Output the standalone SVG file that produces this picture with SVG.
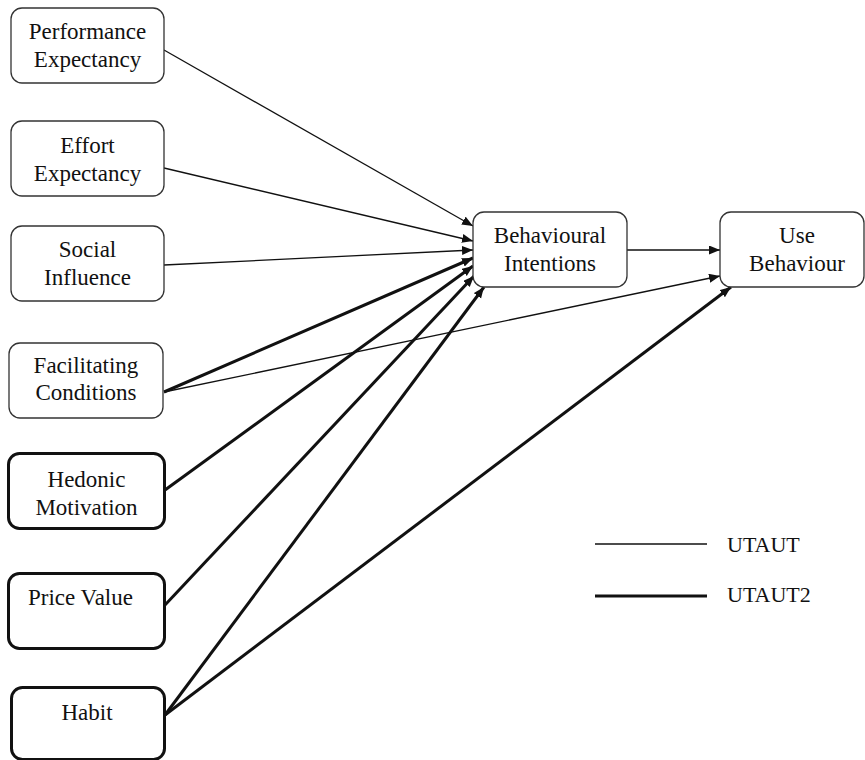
<svg xmlns="http://www.w3.org/2000/svg" width="865" height="760" viewBox="0 0 865 760">
<style>
.box{fill:#fff;stroke:#333;stroke-width:1.3}
.bold{fill:#fff;stroke:#111;stroke-width:3}
.t{font-family:"Liberation Serif","Times New Roman",serif;font-size:23px;fill:#111;text-anchor:middle}
.l{font-family:"Liberation Serif","Times New Roman",serif;font-size:22px;fill:#111}
.thin{stroke:#111;stroke-width:1.3;fill:none}
.thick{stroke:#111;stroke-width:3;fill:none}
</style>
<defs>
<marker id="ah" markerUnits="userSpaceOnUse" markerWidth="12" markerHeight="10" refX="11" refY="4.5" orient="auto">
<path d="M0,0 L11,4.5 L0,9 z" fill="#111"/>
</marker>
</defs>
<rect width="865" height="760" fill="#fff"/>
<g id="connectors">
<line class="thin" x1="164" y1="50" x2="473" y2="226" marker-end="url(#ah)"/>
<line class="thin" x1="164" y1="168" x2="473" y2="241" marker-end="url(#ah)"/>
<line class="thin" x1="164" y1="265" x2="473" y2="250" marker-end="url(#ah)"/>
<line class="thick" x1="164" y1="392" x2="473" y2="258" marker-end="url(#ah)"/>
<line class="thin" x1="164" y1="392" x2="720" y2="276" marker-end="url(#ah)"/>
<line class="thick" x1="165" y1="490" x2="473" y2="266" marker-end="url(#ah)"/>
<line class="thick" x1="165" y1="605" x2="474" y2="276" marker-end="url(#ah)"/>
<line class="thick" x1="165" y1="715" x2="484" y2="287" marker-end="url(#ah)"/>
<line class="thick" x1="165" y1="715" x2="731" y2="287" marker-end="url(#ah)"/>
<line class="thin" x1="627" y1="250" x2="720" y2="250" marker-end="url(#ah)"/>
</g>
<g id="pe"><rect class="box" x="11" y="8" width="153" height="75" rx="11"/><text class="t" x="87.5" y="39">Performance</text><text class="t" x="87.5" y="67">Expectancy</text></g>
<g id="ee"><rect class="box" x="11" y="121" width="153" height="75" rx="11"/><text class="t" x="87.5" y="153">Effort</text><text class="t" x="87.5" y="181">Expectancy</text></g>
<g id="si"><rect class="box" x="11" y="226" width="153" height="75" rx="11"/><text class="t" x="87.5" y="257">Social</text><text class="t" x="87.5" y="285">Influence</text></g>
<g id="fc"><rect class="box" x="9" y="343" width="154" height="75" rx="11"/><text class="t" x="86" y="373">Facilitating</text><text class="t" x="86" y="400">Conditions</text></g>
<g id="hm"><rect class="bold" x="8.5" y="453.5" width="156" height="75" rx="11"/><text class="t" x="86.5" y="487">Hedonic</text><text class="t" x="86.5" y="515">Motivation</text></g>
<g id="pv"><rect class="bold" x="8.5" y="573.5" width="156" height="75" rx="11"/><text class="t" x="28" y="605" style="text-anchor:start">Price Value</text></g>
<g id="habit"><rect class="bold" x="11.5" y="687.5" width="153" height="72" rx="11"/><text class="t" x="87" y="720">Habit</text></g>
<g id="bi"><rect class="box" x="473" y="212" width="154" height="75" rx="11"/><text class="t" x="550" y="243">Behavioural</text><text class="t" x="550" y="271">Intentions</text></g>
<g id="ub"><rect class="box" x="720" y="212" width="144" height="75" rx="11"/><text class="t" x="797" y="243">Use</text><text class="t" x="797" y="271">Behaviour</text></g>
<g id="legend">
<line class="thin" x1="595" y1="544" x2="707" y2="544"/>
<line class="thick" x1="595" y1="596" x2="707" y2="596"/>
<text class="l" x="727" y="552">UTAUT</text>
<text class="l" x="727" y="602">UTAUT2</text>
</g>
</svg>
